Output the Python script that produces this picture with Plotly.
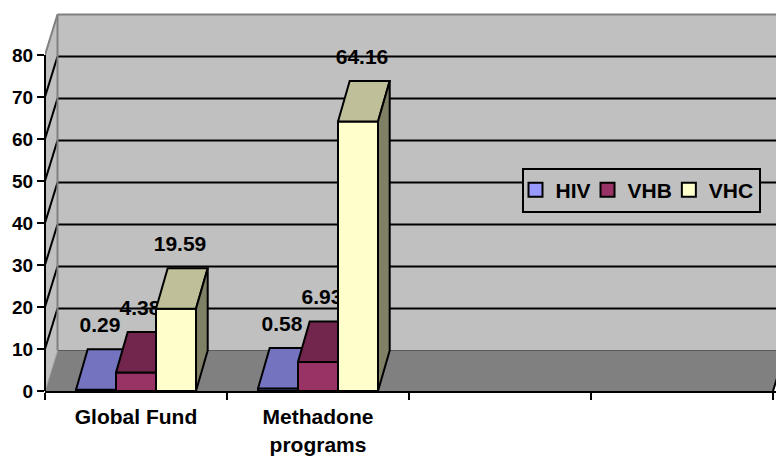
import plotly.graph_objects as go

# ---------------- data ----------------
CATEGORIES = ["Global Fund", "Methadone programs"]
SERIES = ["HIV", "VHB", "VHC"]
HIV = [0.29, 0.58]
VHB = [4.38, 6.93]
VHC = [19.59, 64.16]
Y_TICKS = [0, 10, 20, 30, 40, 50, 60, 70, 80]
N_SLOTS = 4  # category slots on the axis (two are empty)

# ---------------- style ----------------
FONT = "Arial, 'Liberation Sans', sans-serif"
FRONT = ["#9999FF", "#993366", "#FFFFCC"]
TOP = ["#7373BF", "#73264D", "#BFBF99"]
SIDE = ["#5C5C99", "#5C1F3D", "#808066"]
WALL = "#C0C0C0"
FLOOR = "#808080"
EDGE = "#808080"

W, H = 776, 456
ML, MR, MT, MB = 45, 0, 13, 65
PXU = 182.0          # px per category slot
PXV = 4.2            # px per value unit
XMAX = (W - ML - MR) / PXU
YMAX = (H - MT - MB) / PXV
YTOP = Y_TICKS[-1]
DX = 12.5 / PXU      # depth offset of walls
DY = 40.5 / PXV
BDX = 11.7 / PXU     # depth offset of bars
BAR_W = 40 / PXU
LABEL_DX = 4 / PXU
LABEL_DY = 15.0

fig = go.Figure()

values = [HIV, VHB, VHC]
n_series = len(SERIES)
group_w = n_series * BAR_W


def poly(xs, ys):
    return list(xs) + [xs[0]], list(ys) + [ys[0]]


for s, vals in enumerate(values):
    fx, fy, tx, ty, sx, sy = [], [], [], [], [], []
    lx, ly, lt = [], [], []
    for c, v in enumerate(vals):
        x0 = c + 0.5 - group_w / 2 + s * BAR_W
        x1 = x0 + BAR_W
        a, b = poly([x0, x1, x1, x0], [0, 0, v, v])
        fx += a + [None]; fy += b + [None]
        a, b = poly([x0, x1, x1 + BDX, x0 + BDX], [v, v, v + DY, v + DY])
        tx += a + [None]; ty += b + [None]
        a, b = poly([x1, x1 + BDX, x1 + BDX, x1], [0, DY, v + DY, v])
        sx += a + [None]; sy += b + [None]
        lx.append(x0 + BAR_W / 2 + LABEL_DX)
        ly.append(v + LABEL_DY)
        lt.append(f"{v:.2f}")
    for xs, ys, col in ((fx, fy, FRONT[s]), (tx, ty, TOP[s]), (sx, sy, SIDE[s])):
        fig.add_trace(go.Scatter(x=xs, y=ys, mode="lines", fill="toself",
                                 fillcolor=col, line=dict(color="black", width=2),
                                 showlegend=False, hoverinfo="skip"))
    fig.add_trace(go.Scatter(x=lx, y=ly, mode="text", text=lt,
                             textfont=dict(family=FONT, size=21, color="black", weight="bold"),
                             showlegend=False, hoverinfo="skip", cliponaxis=False))

for s, name in enumerate(SERIES):
    fig.add_trace(go.Scatter(x=[None], y=[None], mode="markers", name=name,
                             marker=dict(symbol="square", size=14, color=FRONT[s],
                                         line=dict(color="black", width=2))))

# ---------------- walls, floor, gridlines ----------------
shapes = []
xr = N_SLOTS
# back wall
shapes.append(dict(type="rect", xref="x", yref="y", x0=DX, x1=xr + DX + 1,
                   y0=DY, y1=YTOP + DY, fillcolor=WALL, line=dict(width=0), layer="below"))
# side wall
shapes.append(dict(type="path", xref="x", yref="y",
                   path=f"M0,0 L0,{YTOP} L{DX},{YTOP + DY} L{DX},{DY} Z",
                   fillcolor=WALL, line=dict(width=0), layer="below"))
# floor
shapes.append(dict(type="path", xref="x", yref="y",
                   path=f"M0,0 L{DX},{DY} L{xr + DX},{DY} L{xr},0 Z",
                   fillcolor=FLOOR, line=dict(width=0), layer="below"))
# gridlines
for t in Y_TICKS[1:-1]:
    shapes.append(dict(type="line", xref="x", yref="y", x0=DX, x1=xr + DX + 1,
                       y0=t + DY, y1=t + DY, line=dict(color="black", width=2), layer="below"))
    shapes.append(dict(type="line", xref="x", yref="y", x0=0, x1=DX,
                       y0=t, y1=t + DY, line=dict(color="black", width=2), layer="below"))
# wall edges
for (x0, y0, x1, y1, col, w) in [
    (DX, YTOP + DY, xr + DX + 1, YTOP + DY, EDGE, 2),
    (DX, DY, DX, YTOP + DY, EDGE, 2),
    (0, YTOP, DX, YTOP + DY, EDGE, 2),
    (DX, DY, xr + DX + 1, DY, "#5A5A5A", 1),
    (0, 0, DX, DY, "#A8A8A8", 1),
    (xr, 0, xr + DX, DY, "black", 2),
]:
    shapes.append(dict(type="line", xref="x", yref="y", x0=x0, y0=y0, x1=x1, y1=y1,
                       line=dict(color=col, width=w), layer="below"))
# value axis line
shapes.append(dict(type="line", xref="paper", yref="y", x0=0, x1=0, y0=0, y1=YTOP,
                   line=dict(color="black", width=2), layer="above"))

tick_centers = [i + 0.5 for i in range(N_SLOTS)]
tick_text = [c.replace(" ", "<br>", 1) if len(c) > 12 else c for c in CATEGORIES]
tick_text += [""] * (N_SLOTS - len(CATEGORIES))

fig.update_layout(
    width=W, height=H,
    margin=dict(l=ML, r=MR, t=MT, b=MB, pad=0),
    paper_bgcolor="white", plot_bgcolor="white",
    shapes=shapes,
    showlegend=True,
    legend=dict(orientation="h", x=(641 - ML) / (W - ML - MR), y=(H - MB - 190) / (H - MT - MB),
                xanchor="center", yanchor="middle", bgcolor=WALL,
                bordercolor="black", borderwidth=2, indentation=-8, itemwidth=30,
                font=dict(family=FONT, size=21, color="black", weight="bold")),
    xaxis=dict(range=[0, XMAX], showgrid=False, zeroline=False,
               showline=True, linecolor="black", linewidth=2,
               tickmode="array", tickvals=tick_centers, ticktext=tick_text, ticks="",
               ticklabelstandoff=6,
               tickfont=dict(family=FONT, size=21, color="black", weight="bold"),
               minor=dict(tickmode="array", tickvals=list(range(N_SLOTS + 1)),
                          ticks="outside", ticklen=7, tickwidth=2, tickcolor="black"),
               fixedrange=True),
    yaxis=dict(range=[0, YMAX], showgrid=False, zeroline=False, showline=False,
               tickmode="array", tickvals=Y_TICKS, ticks="outside", ticklen=7,
               tickwidth=2, tickcolor="black",
               tickfont=dict(family=FONT, size=19, color="black", weight="bold"),
               fixedrange=True),
)

fig.write_html("out.html")
